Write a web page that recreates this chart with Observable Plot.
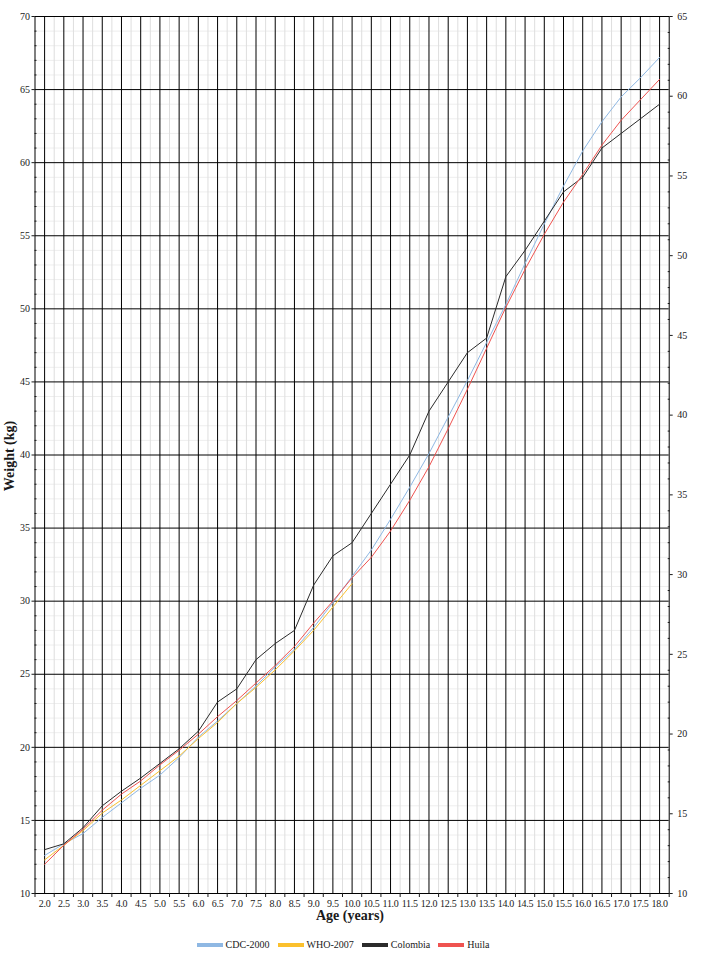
<!DOCTYPE html>
<html>
<head>
<meta charset="utf-8">
<script src="https://cdn.jsdelivr.net/npm/d3@7"></script>
<script src="https://cdn.jsdelivr.net/npm/@observablehq/plot@0.6"></script>
<style>
  html, body { margin: 0; padding: 0; background: #fff; }
  #wrap { position: relative; width: 708px; font-family: "Liberation Serif", "DejaVu Serif", serif; color: #1a1a1a; }
  .ytitle { position: absolute; left: 10px; top: 456px; transform: translate(-50%, -50%) rotate(-90deg); font-weight: bold; font-size: 14px; white-space: nowrap; }
  .xtitle { position: absolute; left: 350px; top: 916px; transform: translate(-50%, -50%); font-weight: bold; font-size: 14px; white-space: nowrap; }
  #legend { display: flex; justify-content: center; align-items: center; width: 708px; padding-right: 22px; box-sizing: border-box; margin-top: 14px; font-size: 10px; }
  .item { display: flex; align-items: center; margin: 0 4px; }
  .sw { width: 26px; height: 4px; margin-right: 3px; }
</style>
</head>
<body>
<div id="wrap"></div>
<script>
// ---- data (weight in kg by age in years) ----
const ages = [2.0,2.5,3.0,3.5,4.0,4.5,5.0,5.5,6.0,6.5,7.0,7.5,8.0,8.5,9.0,9.5,10.0,10.5,11.0,11.5,12.0,12.5,13.0,13.5,14.0,14.5,15.0,15.5,16.0,16.5,17.0,17.5,18.0];
const cdc2000 = [12.6,13.4,14.1,15.2,16.2,17.2,18.1,19.3,20.7,21.8,23.0,24.2,25.5,26.7,28.2,29.9,31.7,33.5,35.6,37.8,40.1,42.6,45.1,47.7,50.3,53.1,55.8,58.4,60.8,62.8,64.5,65.8,67.2];
const who2007 = [12.3,13.3,14.3,15.5,16.4,17.4,18.4,19.4,20.6,21.7,23.0,24.1,25.3,26.6,28.0,29.6,31.2];
const colombia = [13.0,13.4,14.5,16.0,17.0,17.9,18.9,19.9,21.1,23.1,24.0,26.0,27.1,28.0,31.1,33.1,34.0,36.0,38.0,40.0,43.0,45.0,47.0,48.0,52.2,54.0,56.0,58.0,59.0,61.0,62.0,63.0,64.0];
const huila = [12.0,13.3,14.4,15.7,16.8,17.7,18.8,19.8,20.9,22.1,23.2,24.4,25.6,26.9,28.5,30.0,31.6,33.0,34.8,36.9,39.2,41.8,44.5,47.3,50.1,52.7,55.1,57.3,59.2,61.2,62.9,64.3,65.7];

const seriesNames = ["CDC-2000", "WHO-2007", "Colombia", "Huila"];
const seriesValues = [cdc2000, who2007, colombia, huila];
const seriesColors = ["#8fb8e3", "#fbc02d", "#2b2b2b", "#ef5350"];

const leftTicks = [10,15,20,25,30,35,40,45,50,55,60,65,70];
const rightTicks = [10,15,20,25,30,35,40,45,50,55,60,65];
const xBoundaries = [1.75,2.25,2.75,3.25,3.75,4.25,4.75,5.25,5.75,6.25,6.75,7.25,7.75,8.25,8.75,9.25,9.75,10.25,10.75,11.25,11.75,12.25,12.75,13.25,13.75,14.25,14.75,15.25,15.75,16.25,16.75,17.25,17.75,18.25];

// ---- derived ----
const rows = [];
seriesValues.forEach((vals, s) => vals.forEach((w, i) => rows.push({age: ages[i], weight: w, series: seriesNames[s]})));

const leftMinor = d3.range(10, 71, 1).filter(v => v % 5 !== 0);
// right axis is a second scale (10..65) drawn on the same frame as the left (10..70)
const rightToLeft = v => 10 + (v - 10) * 60 / 55;
const leftToRight = v => 10 + (v - 10) * 55 / 60;
const rightMinor = d3.range(10, 66, 1).filter(v => v % 5 !== 0).map(rightToLeft);
const innerBoundaries = xBoundaries.slice(1, -1);

const font = {fontSize: 10, fill: "#1a1a1a"};

const chart = Plot.plot({
  width: 708,
  height: 925,
  marginTop: 16,
  marginBottom: 32,
  marginLeft: 34.5,
  marginRight: 39.3,
  style: {fontFamily: "'Liberation Serif', 'DejaVu Serif', serif", fontSize: "10px", background: "#fff", overflow: "visible"},
  x: {domain: [1.75, 18.25]},
  y: {domain: [10, 70]},
  color: {domain: seriesNames, range: seriesColors},
  marks: [
    Plot.ruleY(leftMinor, {stroke: "#eeeeee", strokeWidth: 1}),
    Plot.ruleX(innerBoundaries, {stroke: "#dedede", strokeWidth: 1}),
    Plot.ruleX(ages, {stroke: "#000", strokeWidth: 1}),
    Plot.ruleY(leftTicks, {stroke: "#000", strokeWidth: 1}),
    Plot.line(rows, {x: "age", y: "weight", z: "series", stroke: "series", strokeWidth: 1}),
    Plot.frame({stroke: "#000"}),
    Plot.axisY({ticks: leftTicks, anchor: "left", tickSize: 3, tickPadding: 2, label: null, ...font}),
    Plot.axisY({ticks: leftMinor, anchor: "left", tickSize: -2, tickFormat: () => "", label: null}),
    Plot.axisY({ticks: rightTicks.map(rightToLeft), anchor: "right", tickSize: 3, tickPadding: 5, tickFormat: d => String(Math.round(leftToRight(d))), label: null, ...font}),
    Plot.axisY({ticks: rightMinor, anchor: "right", tickSize: -2, tickFormat: () => "", label: null}),
    Plot.axisX({ticks: ages, anchor: "bottom", tickSize: 0, tickPadding: 6, tickFormat: d => d.toFixed(1), label: null, ...font, style: "letter-spacing:-0.3px"}),
    Plot.axisX({ticks: xBoundaries, anchor: "bottom", tickSize: 4, tickFormat: () => "", label: null})
  ]
});

const wrap = document.getElementById("wrap");
wrap.appendChild(chart);
// tighten the x tick labels so they do not run together
chart.querySelectorAll("g[aria-label='x-axis tick label'] text").forEach(t => t.setAttribute("letter-spacing", "-0.3"));

const yt = document.createElement("div");
yt.className = "ytitle"; yt.textContent = "Weight (kg)";
wrap.appendChild(yt);
const xt = document.createElement("div");
xt.className = "xtitle"; xt.textContent = "Age (years)";
wrap.appendChild(xt);

const legend = document.createElement("div");
legend.id = "legend";
seriesNames.forEach((n, i) => {
  const it = document.createElement("div"); it.className = "item";
  const sw = document.createElement("span"); sw.className = "sw"; sw.style.background = seriesColors[i];
  const lb = document.createElement("span"); lb.textContent = n;
  it.appendChild(sw); it.appendChild(lb);
  legend.appendChild(it);
});
wrap.appendChild(legend);
</script>
</body>
</html>
